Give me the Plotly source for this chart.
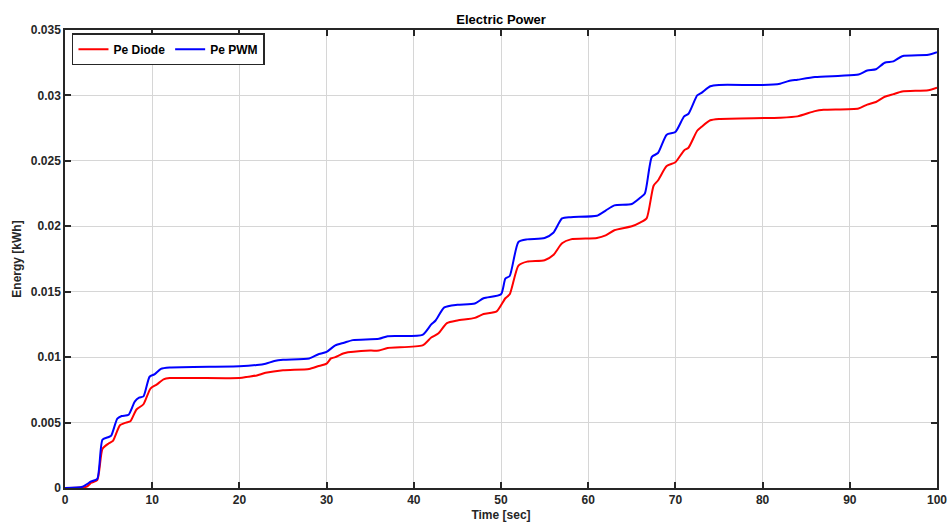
import plotly.graph_objects as go

t_pwm = [0, 2, 3, 3.7, 4.3, 5, 5.3, 6, 6.5, 7.3, 8, 8.5, 9, 9.7, 10.3, 11, 12, 20, 22, 23, 24, 25, 28, 29, 30, 31, 32, 33, 36, 37, 41, 42, 42.5, 43.5, 45, 47, 48, 50, 50.5, 51, 52, 53, 55, 56, 57, 58, 61, 62, 63, 65, 66, 66.5, 67.3, 68, 69, 70, 71, 71.5, 72.5, 73, 74, 75, 80, 82, 83, 84, 86, 89, 91, 92, 93, 94, 95, 96, 99, 100]
pe_pwm = [0, 0.0001, 0.0005, 0.0007, 0.0037, 0.0039, 0.004, 0.0053, 0.0055, 0.0056, 0.0066, 0.0069, 0.007, 0.0085, 0.0087, 0.0091, 0.0092, 0.0093, 0.0094, 0.0095, 0.0097, 0.0098, 0.0099, 0.0102, 0.0104, 0.0109, 0.0111, 0.0113, 0.0114, 0.0116, 0.0117, 0.0125, 0.0128, 0.0138, 0.014, 0.0141, 0.0145, 0.0148, 0.016, 0.0162, 0.0188, 0.019, 0.0191, 0.0195, 0.0206, 0.0207, 0.0208, 0.0212, 0.0216, 0.0217, 0.0222, 0.0225, 0.0253, 0.0256, 0.027, 0.0272, 0.0284, 0.0286, 0.03, 0.0302, 0.0307, 0.0308, 0.0308, 0.0309, 0.0311, 0.0312, 0.0314, 0.0315, 0.0316, 0.0319, 0.032, 0.0325, 0.0326, 0.033, 0.0331, 0.0333]

t_diode = [0, 2.5, 3, 3.7, 4.3, 5, 5.5, 6.3, 7, 7.5, 8.2, 9, 9.8, 10.5, 11.3, 12, 20, 21, 22, 23, 25, 28, 29, 30, 30.5, 31, 32, 35, 36, 37, 41, 42, 42.8, 43.8, 45, 47, 48, 49.5, 50.5, 51, 52, 53, 55, 56, 57, 58, 61, 62, 63, 65, 66, 66.7, 67.5, 68, 69, 70, 71, 71.5, 72.5, 73, 74, 75, 82, 84, 86, 87, 91, 92, 93, 94, 95, 96, 99, 100]
pe_diode = [0, 0.0001, 0.0004, 0.0006, 0.003, 0.0034, 0.0036, 0.0048, 0.005, 0.0051, 0.006, 0.0064, 0.0076, 0.0079, 0.0083, 0.0084, 0.0084, 0.0085, 0.0086, 0.0088, 0.009, 0.0091, 0.0093, 0.0095, 0.0099, 0.01, 0.0103, 0.0105, 0.0105, 0.0107, 0.0109, 0.0115, 0.0118, 0.0126, 0.0128, 0.013, 0.0133, 0.0135, 0.0145, 0.0148, 0.017, 0.0173, 0.0174, 0.0178, 0.0187, 0.019, 0.0191, 0.0193, 0.0197, 0.02, 0.0203, 0.0206, 0.0231, 0.0235, 0.0246, 0.0249, 0.0258, 0.026, 0.0273, 0.0276, 0.0281, 0.0282, 0.0283, 0.0284, 0.0288, 0.0289, 0.029, 0.0293, 0.0295, 0.0299, 0.0301, 0.0303, 0.0304, 0.0306]

x_ticks = [0, 10, 20, 30, 40, 50, 60, 70, 80, 90, 100]
y_ticks = [0, 0.005, 0.01, 0.015, 0.02, 0.025, 0.03, 0.035]
y_ticktext = ["0", "0.005", "0.01", "0.015", "0.02", "0.025", "0.03", "0.035"]

fig = go.Figure()
fig.add_trace(go.Scatter(x=t_diode, y=pe_diode, mode="lines", name="<b>Pe Diode</b>",
                         line=dict(color="#ff0000", width=2, shape="spline", smoothing=0.6)))
fig.add_trace(go.Scatter(x=t_pwm, y=pe_pwm, mode="lines", name="<b>Pe PWM</b>",
                         line=dict(color="#0000ff", width=2, shape="spline", smoothing=0.6)))

axis_common = dict(showline=True, linecolor="#262626", linewidth=1.5, mirror="allticks",
                   ticks="inside", ticklen=6, tickwidth=1.5, tickcolor="#262626",
                   showgrid=True, gridcolor="#d6d6d6", gridwidth=1, zeroline=False,
                   automargin=False,
                   tickfont=dict(family="Liberation Sans, Arial", size=12, color="#262626"))

fig.update_layout(
    width=950, height=524,
    margin=dict(l=65, r=13, t=30, b=36),
    paper_bgcolor="white", plot_bgcolor="white",
    font=dict(family="Liberation Sans, Arial", color="#262626"),
    title=dict(text="<b>Electric Power</b>", x=0.5275, xanchor="center", y=0.963, yanchor="middle",
               font=dict(size=13, color="#000000")),
    legend=dict(x=0.008, y=0.993, xanchor="left", yanchor="top", orientation="h",
                bordercolor="#262626", borderwidth=1.5, bgcolor="white",
                font=dict(size=12, color="#000000"), itemwidth=30,
                tracegroupgap=0),
    showlegend=True,
)
fig.update_xaxes(range=[0, 100], tickvals=x_ticks, ticktext=[f"<b>{v}</b>" for v in x_ticks],
                 title=dict(text="<b>Time [sec]</b>", standoff=4, font=dict(size=12, color="#262626")),
                 **axis_common)
fig.update_yaxes(range=[0, 0.035], tickvals=y_ticks, ticktext=[f"<b>{v}</b>" for v in y_ticktext],
                 title=dict(text="<b>Energy [kWh]</b>", standoff=7, font=dict(size=12, color="#262626")),
                 **axis_common)

fig.write_html("out.html")
